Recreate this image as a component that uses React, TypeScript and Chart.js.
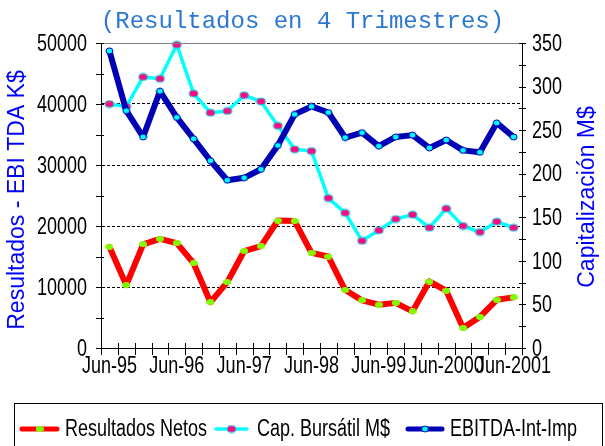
import React, { useEffect, useRef } from 'react';
import Chart from 'chart.js/auto';

const categories = [
  'Jun-95', 'Sep-95', 'Dic-95', 'Mar-96',
  'Jun-96', 'Sep-96', 'Dic-96', 'Mar-97',
  'Jun-97', 'Sep-97', 'Dic-97', 'Mar-98',
  'Jun-98', 'Sep-98', 'Dic-98', 'Mar-99',
  'Jun-99', 'Sep-99', 'Dic-99', 'Mar-2000',
  'Jun-2000', 'Sep-2000', 'Dic-2000', 'Mar-2001',
  'Jun-2001',
];

const resultadosNetos = [
  16600, 10300, 17000, 17900, 17200, 13900, 7500, 10800, 15900, 16700,
  20900, 20800, 15600, 15000, 9500, 7800, 7100, 7400, 6000, 10900,
  9400, 3300, 5100, 7900, 8300,
];

const capBursatil = [
  280, 277, 311, 309, 348, 292, 270, 272, 290, 283,
  255, 228, 226, 172, 155, 123, 135, 148, 153, 138,
  160, 140, 133, 145, 138,
];

const ebitda = [
  48700, 38900, 34600, 42100, 37800, 34300, 30700, 27500, 27900, 29300,
  33200, 38300, 39600, 38600, 34500, 35300, 33100, 34600, 34900, 32800,
  34100, 32400, 32100, 36900, 34600,
];

const leftTickLabels = [0, 10000, 20000, 30000, 40000, 50000];
const rightTickLabels = [0, 50, 100, 150, 200, 250, 300, 350];
const leftMinorStep = 5000;
const rightMinorStep = 25;
const xLabelEvery = 4;

const TITLE = '(Resultados en 4 Trimestres)';
const LEFT_TITLE = 'Resultados - EBI TDA K$';
const RIGHT_TITLE = 'Capitalización M$';
const SERIES_NAMES = ['Resultados Netos', 'Cap. Bursátil M$', 'EBITDA-Int-Imp'];

const SANS = '"Liberation Sans", Arial, sans-serif';
const LABEL_FONT = '18px ' + SANS;
const STRETCH = 1.36;

function makeDot(w: number, h: number, fill: string, stroke: string | null, lw: number) {
  const c = document.createElement('canvas');
  const pad = stroke ? lw : 0;
  c.width = w + pad * 2;
  c.height = h + pad * 2;
  const g = c.getContext('2d')!;
  g.beginPath();
  g.ellipse(c.width / 2, c.height / 2, w / 2, h / 2, 0, 0, Math.PI * 2);
  g.fillStyle = fill;
  g.fill();
  if (stroke) {
    g.lineWidth = lw;
    g.strokeStyle = stroke;
    g.stroke();
  }
  return c;
}

function tallText(ctx: CanvasRenderingContext2D, text: string, x: number, y: number, align: CanvasTextAlign) {
  ctx.save();
  ctx.translate(x, y);
  ctx.scale(1, STRETCH);
  ctx.font = LABEL_FONT;
  ctx.textAlign = align;
  ctx.textBaseline = 'middle';
  ctx.fillText(text, 0, 0);
  ctx.restore();
}

export default function App() {
  const ref = useRef<HTMLCanvasElement>(null);

  useEffect(() => {
    const canvas = ref.current!;
    const redDot = makeDot(8, 6, '#80ff00', null, 0);
    const pinkDot = makeDot(9, 7, '#ff0a7f', '#00e8f0', 1);
    const cyanDot = makeDot(7, 6, '#00ffff', '#0000b4', 1);
    const colors = ['#ff0000', '#00ffff', '#0000b4'];
    const dots = [redDot, pinkDot, cyanDot];
    const widths = [6, 3.5, 6];

    const decor = {
      id: 'decor',
      afterDraw(chart: any) {
        const { ctx, chartArea: a, scales } = chart;
        ctx.save();
        // top border of plot area
        ctx.strokeStyle = '#808080';
        ctx.lineWidth = 1;
        ctx.beginPath();
        ctx.moveTo(a.left, a.top + 0.5);
        ctx.lineTo(a.right, a.top + 0.5);
        ctx.stroke();

        // crossing tick marks
        ctx.strokeStyle = '#000';
        ctx.beginPath();
        const yl = scales.y;
        for (let v = yl.min; v <= yl.max; v += leftMinorStep) {
          const p = Math.round(yl.getPixelForValue(v)) + 0.5;
          ctx.moveTo(a.left - 5, p);
          ctx.lineTo(a.left + 3, p);
        }
        const yr = scales.y1;
        for (let v = yr.min; v <= yr.max; v += rightMinorStep) {
          const p = Math.round(yr.getPixelForValue(v)) + 0.5;
          ctx.moveTo(a.right - 3, p);
          ctx.lineTo(a.right + 4, p);
        }
        const xs = scales.x;
        const half = (xs.getPixelForValue(1) - xs.getPixelForValue(0)) / 2;
        for (let i = 0; i <= categories.length; i++) {
          const p = Math.round(xs.getPixelForValue(i) - half) + 0.5;
          ctx.moveTo(p, a.bottom - 5);
          ctx.lineTo(p, a.bottom + 7);
        }
        ctx.stroke();

        // tick labels
        ctx.fillStyle = '#000';
        leftTickLabels.forEach((v) => tallText(ctx, String(v), a.left - 14, yl.getPixelForValue(v) + 1, 'right'));
        rightTickLabels.forEach((v) => tallText(ctx, String(v), a.right + 10, yr.getPixelForValue(v) + 1, 'left'));
        categories.forEach((c, i) => {
          if (i % xLabelEvery === 0) tallText(ctx, c, xs.getPixelForValue(i), a.bottom + 18, 'center');
        });

        // main title
        ctx.font = '24px "Liberation Mono", "DejaVu Sans Mono", monospace';
        ctx.fillStyle = '#2a78d4';
        ctx.textAlign = 'center';
        ctx.textBaseline = 'middle';
        ctx.fillText(TITLE, 302.5, 22);

        // axis titles
        ctx.font = '23px ' + SANS;
        ctx.fillStyle = '#0000ff';
        ctx.save();
        ctx.translate(18, 200);
        ctx.rotate(-Math.PI / 2);
        ctx.fillText(LEFT_TITLE, 0, 0);
        ctx.restore();
        ctx.save();
        ctx.translate(588, 197);
        ctx.rotate(-Math.PI / 2);
        ctx.fillText(RIGHT_TITLE, 0, 0);
        ctx.restore();

        // legend
        ctx.strokeStyle = '#000';
        ctx.lineWidth = 1;
        ctx.strokeRect(14.5, 403.5, 588, 80);
        const items = [
          { x0: 20, x1: 59, tx: 65 },
          { x0: 214, x1: 249, tx: 257 },
          { x0: 406, x1: 444, tx: 450 },
        ];
        const ly = 429;
        items.forEach((it, k) => {
          ctx.strokeStyle = colors[k];
          ctx.lineWidth = k === 1 ? 3.5 : 5;
          ctx.lineCap = 'round';
          ctx.beginPath();
          ctx.moveTo(it.x0 + 2, ly);
          ctx.lineTo(it.x1 - 2, ly);
          ctx.stroke();
          const d = dots[k];
          ctx.drawImage(d, (it.x0 + it.x1) / 2 - d.width / 2, ly - d.height / 2);
          ctx.fillStyle = '#000';
          tallText(ctx, SERIES_NAMES[k], it.tx, ly, 'left');
        });
        ctx.restore();
      },
    };

    const chart = new Chart(canvas, {
      type: 'line',
      data: {
        labels: categories,
        datasets: [
          {
            label: SERIES_NAMES[0],
            data: resultadosNetos,
            yAxisID: 'y',
            borderColor: colors[0],
            borderWidth: widths[0],
            pointStyle: redDot as any,
            pointRadius: 4,
            borderJoinStyle: 'round',
            borderCapStyle: 'round',
            order: 3,
            clip: false as any,
          },
          {
            label: SERIES_NAMES[1],
            data: capBursatil,
            yAxisID: 'y1',
            borderColor: colors[1],
            borderWidth: widths[1],
            pointStyle: pinkDot as any,
            pointRadius: 4,
            borderJoinStyle: 'round',
            borderCapStyle: 'round',
            order: 2,
            clip: false as any,
          },
          {
            label: SERIES_NAMES[2],
            data: ebitda,
            yAxisID: 'y',
            borderColor: colors[2],
            borderWidth: widths[2],
            pointStyle: cyanDot as any,
            pointRadius: 4,
            borderJoinStyle: 'round',
            borderCapStyle: 'round',
            order: 1,
            clip: false as any,
          },
        ],
      },
      options: {
        responsive: false,
        animation: false,
        events: [],
        layout: { padding: { top: 43, bottom: 68, left: 0, right: 0 } },
        plugins: {
          legend: { display: false },
          title: { display: false },
          tooltip: { enabled: false },
        },
        scales: {
          x: {
            type: 'category',
            offset: true,
            grid: { display: true, drawOnChartArea: false, drawTicks: false, offset: true },
            border: { display: true, color: '#000', width: 1 },
            ticks: { display: false, autoSkip: false },
            afterFit: (s: any) => {
              s.height = 30;
              s.paddingLeft = 0;
              s.paddingRight = 0;
            },
          },
          y: {
            position: 'left',
            min: 0,
            max: 50000,
            grid: {
              drawTicks: false,
              lineWidth: 1,
              color: (c: any) => {
                const v = c.tick ? c.tick.value : 0;
                return leftTickLabels.includes(v) && v > 0 && v < 50000 ? '#000' : 'rgba(0,0,0,0)';
              },
            },
            border: { display: true, color: '#000', width: 1, dash: [3, 2] },
            ticks: { display: false, stepSize: leftMinorStep },
            afterFit: (s: any) => {
              s.width = 101;
              s.paddingTop = 0;
              s.paddingBottom = 0;
            },
          },
          y1: {
            position: 'right',
            min: 0,
            max: 350,
            grid: { drawOnChartArea: false, drawTicks: false },
            border: { display: true, color: '#000', width: 1 },
            ticks: { display: false, stepSize: 50 },
            afterFit: (s: any) => {
              s.width = 83;
              s.paddingTop = 0;
              s.paddingBottom = 0;
            },
          },
        },
      },
      plugins: [decor],
    });
    return () => chart.destroy();
  }, []);

  return (
    <div style={{ position: 'fixed', left: 0, top: 0, width: 605, height: 446, background: '#fff' }}>
      <canvas ref={ref} width={605} height={446} style={{ display: 'block', width: 605, height: 446 }} />
    </div>
  );
}
